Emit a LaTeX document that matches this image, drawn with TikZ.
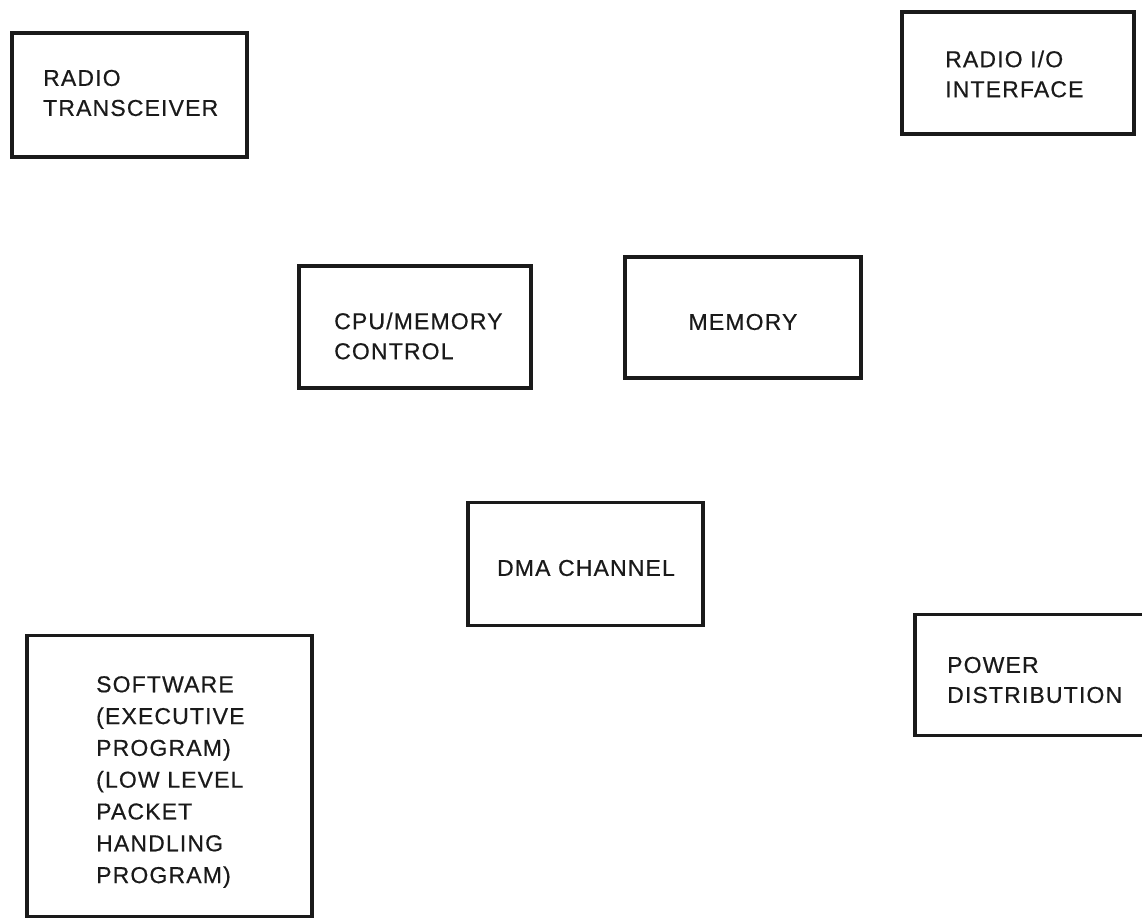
\documentclass[tikz,border=0pt]{standalone}
\usepackage{fontspec}
\setmainfont{Liberation Sans}[LetterSpace=5,FakeBold=0.5]
\definecolor{ink}{HTML}{1A1A1A}
\begin{document}
\begin{tikzpicture}[x=1pt,y=-1pt,
  boxshape/.style 2 args={draw=ink, line width=3.6pt, minimum width=#1, minimum height=#2, inner sep=0pt},
  lbl/.style={text=ink, inner sep=0pt, anchor=west, align=left,
    font=\fontsize{23}{30}\selectfont},
  clbl/.style={text=ink, inner sep=0pt, align=center,
    font=\fontsize{23}{30}\selectfont}]
\clip (0,0) rectangle (1142,920);
\fill[white] (0,0) rectangle (1142,920);
% boxes
\node[boxshape={235pt}{124pt}] (trx) at (129.5,95) {};
\node[boxshape={232pt}{122pt}] (rio) at (1018,73) {};
\node[boxshape={232pt}{122pt}] (cpu) at (415,327) {};
\node[boxshape={236pt}{121pt}] (mem) at (743,317.5) {};
\node[boxshape={235pt}{123pt}] (dma) at (585.5,564) {};
\node[boxshape={285pt}{281pt}] (sw) at (169.5,776) {};
\node[boxshape={260pt}{121pt}] (pwr) at (1045,675) {};
% labels
\node[lbl] (trxT) at (43,93) {RADIO\\TRANSCEIVER};
\node[lbl] (rioT) at (945,74) {RADIO I/O\\INTERFACE};
\node[lbl] (cpuT) at (334,336) {CPU/MEMORY\\CONTROL};
\node[clbl] (memT) at (743,322) {MEMORY};
\node[clbl] (dmaT) at (586,568) {DMA CHANNEL};
\node[lbl, font=\fontsize{23}{31.8}\selectfont] (swT) at (96,782) {SOFTWARE\\(EXECUTIVE\\PROGRAM)\\(LOW LEVEL\\PACKET\\HANDLING\\PROGRAM)};
\node[lbl] (pwrT) at (947,680) {POWER\\DISTRIBUTION};
\end{tikzpicture}
\end{document}
